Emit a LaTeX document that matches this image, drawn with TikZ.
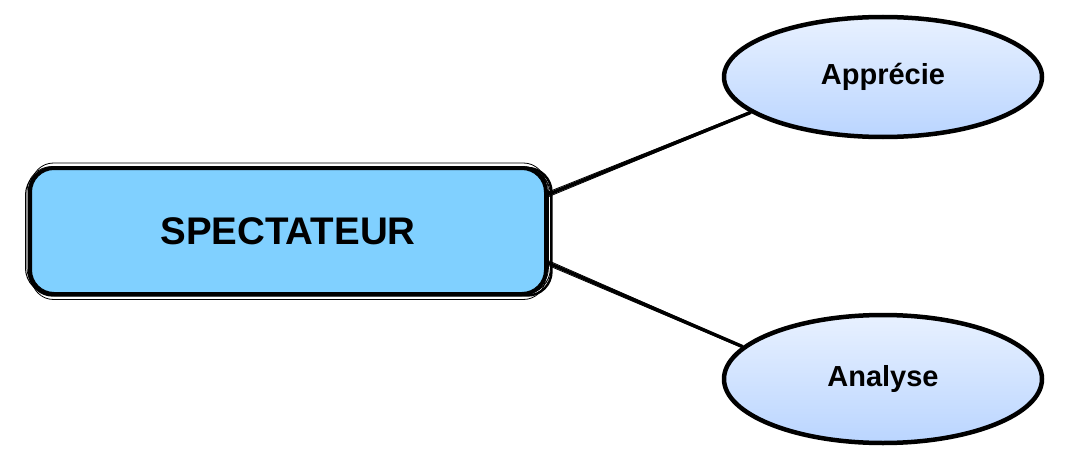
\documentclass[tikz,border=0pt]{standalone}
\usepackage{fontspec}
\setmainfont{Liberation Sans}
\usetikzlibrary{shapes.geometric}
\definecolor{boxblue}{RGB}{128,208,255}
\definecolor{elltop}{RGB}{232,241,255}
\definecolor{ellbot}{RGB}{186,213,255}
\tikzset{
  mainbox/.style={rectangle, rounded corners=24pt, minimum width=516pt, minimum height=126pt,
    inner sep=0pt, fill=boxblue, draw=black, line width=4pt,
    font=\fontsize{38.5}{40}\selectfont\bfseries},
  bubble/.style={ellipse, inner sep=0pt, top color=elltop, bottom color=ellbot,
    draw=black, line width=4.5pt, font=\fontsize{29}{32}\selectfont\bfseries},
  sketch/.style={draw=black, line width=1pt},
  link/.style={draw=black, line width=3.4pt, line cap=round},
  linksketch/.style={draw=black, line width=0.8pt}
}
\begin{document}
\begin{tikzpicture}[x=1pt,y=-1pt]
\useasboundingbox (0,0) rectangle (1066,452);
\node[mainbox] (spec) at (288,231) {SPECTATEUR};
\node[bubble, minimum width=318pt, minimum height=120pt] (app) at (883,77) {Appr\'ecie};
\node[bubble, minimum width=318pt, minimum height=128pt] (ana) at (883,379) {Analyse};
\draw[link] (spec.8) -- (app.195);
\draw[linksketch] ([yshift=-2.4pt]spec.8) -- ([yshift=-0.8pt]app.195);
\draw[linksketch] ([yshift=2.4pt]spec.8) -- ([yshift=1.2pt]app.195);
\draw[link] (spec.-7) -- (ana.167);
\draw[linksketch] ([yshift=-2.4pt]spec.-7) -- ([yshift=-1.2pt]ana.167);
\draw[linksketch] ([yshift=2.4pt]spec.-7) -- ([yshift=0.8pt]ana.167);
% sketchy outline of main box
\draw[sketch, rounded corners=26pt] ([shift={(-2.5pt,2pt)}]spec.south west) rectangle ([shift={(2.5pt,-3pt)}]spec.north east);
\draw[sketch, line width=2.4pt, rounded corners=24pt] ([shift={(1pt,0.5pt)}]spec.south west) rectangle ([shift={(3.5pt,-2pt)}]spec.north east);
\draw[sketch, line width=0.8pt, rounded corners=22pt] ([shift={(3.5pt,-3.5pt)}]spec.south west) rectangle ([shift={(-2.5pt,3pt)}]spec.north east);
\draw[sketch, line width=0.7pt, rounded corners=25pt] ([shift={(-1pt,3pt)}]spec.south west) rectangle ([shift={(0.5pt,-0.5pt)}]spec.north east);
\end{tikzpicture}
\end{document}
